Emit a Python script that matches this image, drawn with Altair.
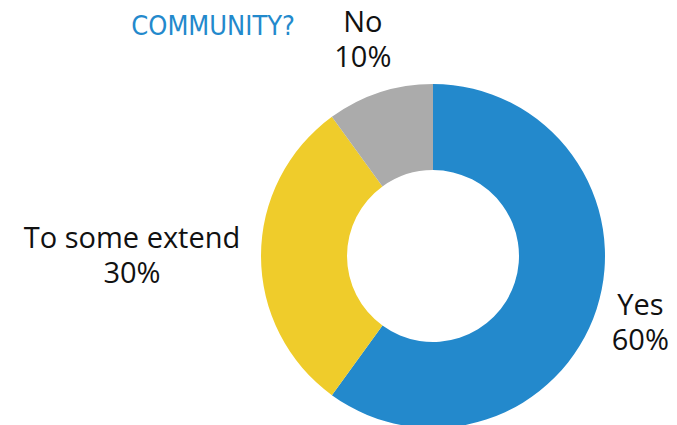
import altair as alt
import pandas as pd

# Survey answers and their shares (percent)
categories = ["Yes", "To some extend", "No"]
shares = [60, 30, 10]
colors = ["#2389CC", "#EFCC2B", "#ABABAB"]

title_text = "COMMUNITY?"

df = pd.DataFrame({
    "answer": categories,
    "share": shares,
    "rank": list(range(len(categories))),
})
df["label"] = [f"{a}\n{s}%" for a, s in zip(categories, shares)]

CX, CY = 433, 256          # donut centre
OUTER, INNER = 172, 86     # ring radii
LABEL_RADIUS = {"Yes": 218, "To some extend": 301, "No": 227}
FONT = "Open Sans"

theta_scale = alt.Scale(domain=[0, 100])

ring = alt.Chart(df).mark_arc(outerRadius=OUTER, innerRadius=INNER, stroke=None).encode(
    theta=alt.Theta("share:Q", stack=True, scale=theta_scale),
    order=alt.Order("rank:Q"),
    x=alt.value(CX),
    y=alt.value(CY),
    color=alt.Color(
        "answer:N",
        scale=alt.Scale(domain=categories, range=colors),
        legend=None,
    ),
)

# mid-angle of every slice, from the running total of the shares
label_base = alt.Chart(df).transform_window(
    cum="sum(share)", sort=[alt.SortField("rank", order="ascending")]
).transform_calculate(mid="datum.cum - datum.share / 2")

label_layers = []
for cat in categories:
    label_layers.append(
        label_base.transform_filter(alt.datum.answer == cat).mark_text(
            font=FONT,
            fontSize=29,
            color="#111111",
            align="center",
            baseline="middle",
            lineBreak="\n",
            lineHeight=35,
            dy=-17,
        ).encode(
            theta=alt.Theta("mid:Q", stack=None, scale=theta_scale),
            x=alt.value(CX),
            y=alt.value(CY),
            radius=alt.value(LABEL_RADIUS[cat]),
            text="label:N",
        )
    )

title = alt.Chart(pd.DataFrame({"t": [title_text]})).mark_text(
    font="DejaVu Sans Condensed",
    fontSize=27,
    color="#2389CC",
    align="right",
    baseline="alphabetic",
).encode(
    x=alt.value(295),
    y=alt.value(35),
    text="t:N",
)

chart = alt.layer(ring, *label_layers, title).properties(
    width=677,
    height=425,
    autosize=alt.AutoSizeParams(type="none"),
    padding=0,
).configure_view(stroke=None)

chart.save("out.html", embed_options={"renderer": "svg", "actions": False})
